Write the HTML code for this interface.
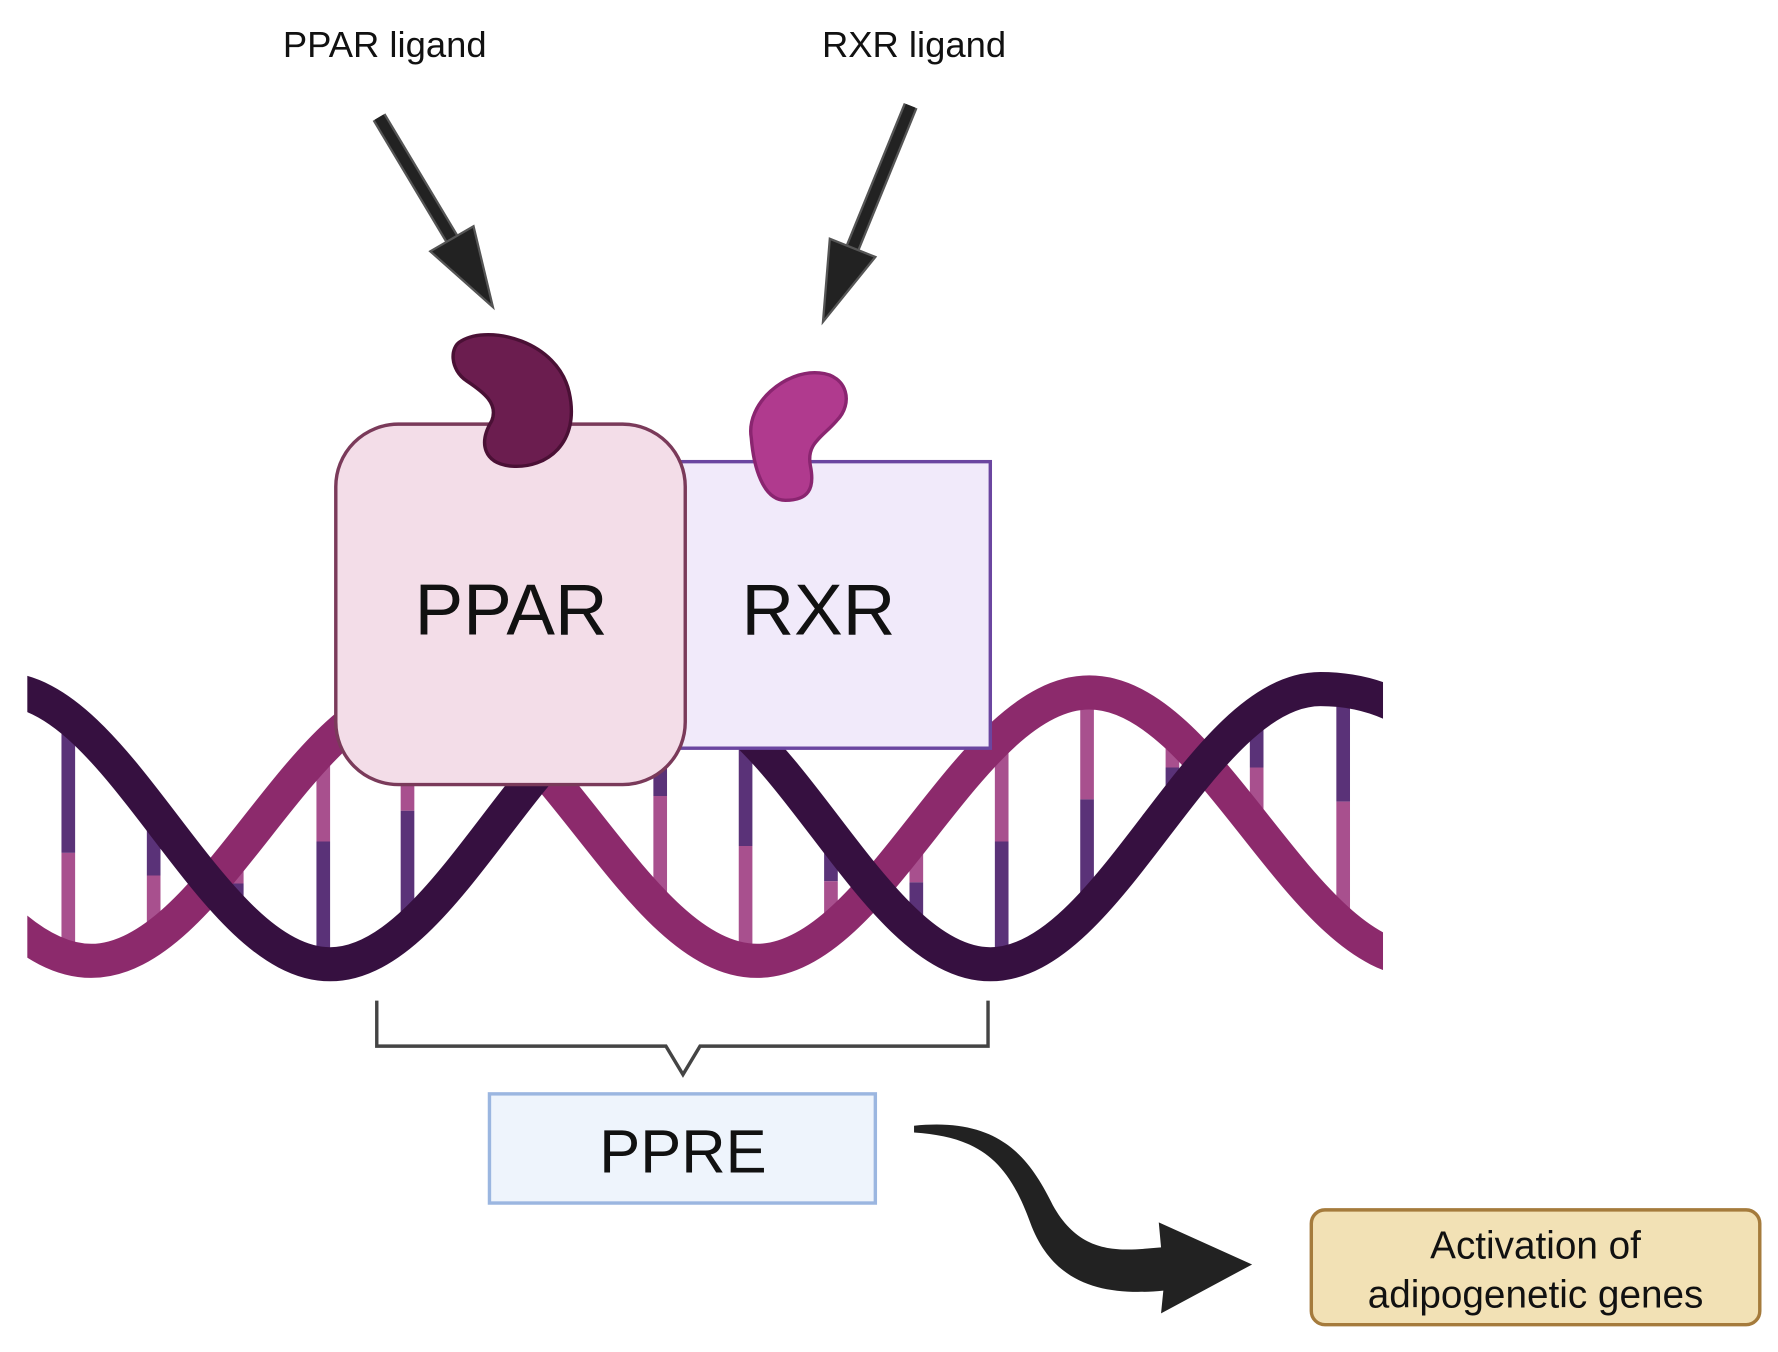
<!DOCTYPE html>
<html><head><meta charset="utf-8"><style>html,body{margin:0;padding:0;background:#fff}svg{display:block}</style></head>
<body>
<svg width="1778" height="1352" viewBox="0 0 1562 1189" preserveAspectRatio="none" xmlns="http://www.w3.org/2000/svg" font-family="Liberation Sans, sans-serif">
<defs><clipPath id="c"><rect x="24" y="0" width="1191" height="1189"/></clipPath></defs>
<text x="338" y="50" font-size="32" text-anchor="middle" fill="#111">PPAR ligand</text>
<text x="803" y="50" font-size="32" text-anchor="middle" fill="#111">RXR ligand</text>
<line x1="333" y1="103" x2="397" y2="210" stroke="#555" stroke-width="13"/>
<line x1="333" y1="103" x2="397" y2="210" stroke="#222" stroke-width="9"/>
<polygon points="378,221 416,199 433,270" fill="#222" stroke="#555" stroke-width="2"/>
<line x1="800" y1="93" x2="749" y2="218" stroke="#555" stroke-width="13"/>
<line x1="800" y1="93" x2="749" y2="218" stroke="#222" stroke-width="9"/>
<polygon points="769,226 729,210 723,283" fill="#222" stroke="#555" stroke-width="2"/>
<g clip-path="url(#c)">
<g stroke-width="12">
<line x1="60" y1="631" x2="60" y2="750" stroke="#5a3278"/><line x1="60" y1="750" x2="60" y2="842" stroke="#a8508e"/>
<line x1="135" y1="714" x2="135" y2="770" stroke="#5a3278"/><line x1="135" y1="770" x2="135" y2="825" stroke="#a8508e"/>
<line x1="208" y1="750" x2="208" y2="777" stroke="#a8508e"/><line x1="208" y1="777" x2="208" y2="803" stroke="#5a3278"/>
<line x1="284" y1="659" x2="284" y2="740" stroke="#a8508e"/><line x1="284" y1="740" x2="284" y2="848" stroke="#5a3278"/>
<line x1="358" y1="610" x2="358" y2="713" stroke="#a8508e"/><line x1="358" y1="713" x2="358" y2="817" stroke="#5a3278"/>
<line x1="580" y1="606" x2="580" y2="700" stroke="#5a3278"/><line x1="580" y1="700" x2="580" y2="799" stroke="#a8508e"/>
<line x1="655" y1="644" x2="655" y2="744" stroke="#5a3278"/><line x1="655" y1="744" x2="655" y2="844" stroke="#a8508e"/>
<line x1="730" y1="732" x2="730" y2="775" stroke="#5a3278"/><line x1="730" y1="775" x2="730" y2="818" stroke="#a8508e"/>
<line x1="805" y1="734" x2="805" y2="776" stroke="#a8508e"/><line x1="805" y1="776" x2="805" y2="819" stroke="#5a3278"/>
<line x1="880" y1="656" x2="880" y2="740" stroke="#a8508e"/><line x1="880" y1="740" x2="880" y2="847" stroke="#5a3278"/>
<line x1="955" y1="609" x2="955" y2="703" stroke="#a8508e"/><line x1="955" y1="703" x2="955" y2="798" stroke="#5a3278"/>
<line x1="1030" y1="642" x2="1030" y2="675" stroke="#a8508e"/><line x1="1030" y1="675" x2="1030" y2="707" stroke="#5a3278"/>
<line x1="1104" y1="622" x2="1104" y2="675" stroke="#5a3278"/><line x1="1104" y1="675" x2="1104" y2="727" stroke="#a8508e"/>
<line x1="1180" y1="608" x2="1180" y2="705" stroke="#5a3278"/><line x1="1180" y1="705" x2="1180" y2="812" stroke="#a8508e"/>
</g>
<path d="M-212,609 C-105.5,609 -26.5,845 80,845 C186.5,845 265.5,609 372,609 C478.5,609 557.5,845 665,845 C771.5,845 850.5,609 957,609 C1063.5,609 1142.5,845 1250,845" fill="none" stroke="#8c2a6c" stroke-width="30"/>
<path d="M0,606 C105.6,606 184.4,848 290,848 C395.6,848 474.4,606 580,606 C685.6,606 764.4,848 870,848 C975.6,848 1054.4,606 1160,606 C1265,606 1300,700 1300,700" fill="none" stroke="#361040" stroke-width="30"/>
</g>
<rect x="588" y="406" width="282" height="252" fill="#f1eafa" stroke="#6b46a0" stroke-width="3"/>
<rect x="295" y="373" width="307" height="317" rx="55" fill="#f3dde8" stroke="#7a3a5a" stroke-width="3"/>
<path d="M405,300 C430,285 490,300 500,345 C510,390 480,412 450,410 C425,408 420,390 432,370 C438,355 425,345 410,335 C395,325 395,305 405,300 Z" fill="#6b1d4f" stroke="#4a1035" stroke-width="3"/>
<path d="M660,385 C655,355 690,325 720,328 C745,330 750,355 735,370 C722,385 708,390 712,410 C716,430 710,440 690,440 C670,440 662,410 660,385 Z" fill="#b03a8e" stroke="#8a2570" stroke-width="3"/>
<text x="449" y="558" font-size="64" text-anchor="middle" fill="#111">PPAR</text>
<text x="719" y="558" font-size="64" text-anchor="middle" fill="#111">RXR</text>
<polyline points="331,880 331,920 585,920 600,945 615,920 868,920 868,880" fill="none" stroke="#444" stroke-width="3"/>
<rect x="430" y="962" width="339" height="96" fill="#eef4fc" stroke="#9bb6e0" stroke-width="3"/>
<text x="600" y="1031" font-size="54" text-anchor="middle" fill="#111">PPRE</text>
<path d="M803,990 C880,982 905,1020 925,1060 C950,1105 985,1100 1020,1097 L1018,1075 L1100,1112 L1020,1155 L1022,1135 C970,1140 925,1130 905,1075 C885,1020 860,1000 803,996 Z" fill="#222"/>
<rect x="1152" y="1064" width="394" height="101" rx="12" fill="#f2e1b5" stroke="#a57b3c" stroke-width="3"/>
<text x="1349" y="1107" font-size="34" text-anchor="middle" fill="#111">Activation of</text>
<text x="1349" y="1150" font-size="34" text-anchor="middle" fill="#111">adipogenetic genes</text>
</svg>
</body></html>
